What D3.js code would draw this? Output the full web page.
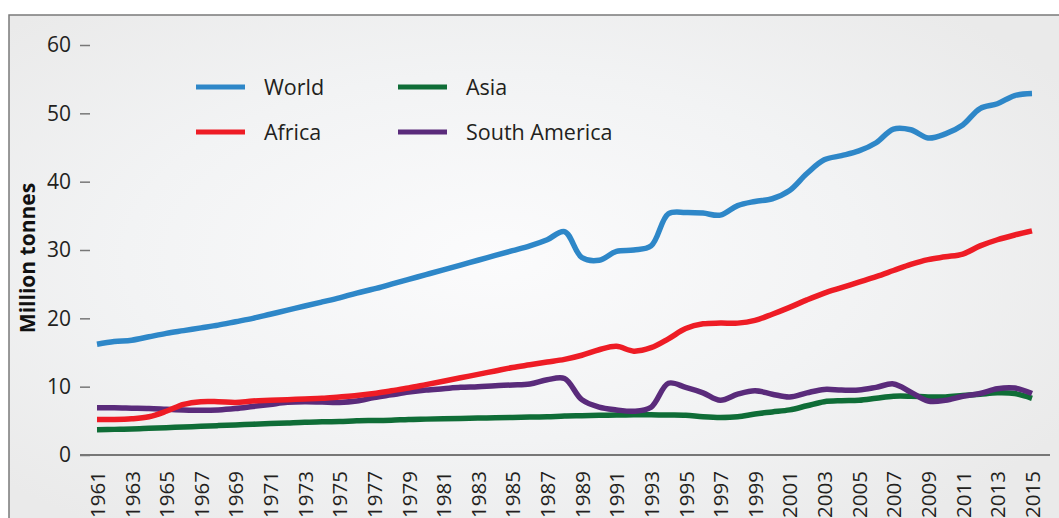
<!DOCTYPE html>
<html>
<head>
<meta charset="utf-8">
<script src="https://cdn.jsdelivr.net/npm/d3@7"></script>
<style>
  body { margin: 0; background: #fff; }
  svg { display: block; font-family: "Open Sans", "Noto Sans", sans-serif; }
</style>
</head>
<body>
<div class="vis-linechart"></div>
<script>
// years and series (million tonnes)
const years = d3.range(1961, 2016);
const tickYears = d3.range(1961, 2016, 2);
const yTicks = [0, 10, 20, 30, 40, 50, 60];

const world = [16.2, 16.6, 16.8, 17.3, 17.8, 18.2, 18.6, 19.0, 19.5, 20.0,
  20.6, 21.2, 21.8, 22.4, 23.0, 23.7, 24.3, 25.0, 25.7, 26.4,
  27.1, 27.8, 28.5, 29.2, 29.9, 30.6, 31.5, 32.7, 28.9, 28.5,
  29.8, 30.0, 30.6, 35.3, 35.5, 35.4, 35.1, 36.5, 37.1, 37.5,
  38.7, 41.2, 43.2, 43.8, 44.5, 45.7, 47.7, 47.6, 46.4, 47.0,
  48.3, 50.7, 51.4, 52.6, 52.9];
const africa = [5.2, 5.2, 5.3, 5.6, 6.4, 7.4, 7.8, 7.8, 7.7, 7.9,
  8.0, 8.1, 8.2, 8.3, 8.5, 8.7, 9.0, 9.4, 9.8, 10.3,
  10.8, 11.3, 11.8, 12.3, 12.8, 13.2, 13.6, 14.0, 14.6, 15.4,
  15.9, 15.2, 15.7, 17.0, 18.5, 19.2, 19.3, 19.3, 19.7, 20.6,
  21.6, 22.7, 23.7, 24.5, 25.3, 26.1, 27.0, 27.9, 28.6, 29.0,
  29.4, 30.6, 31.5, 32.2, 32.8];
const asia = [3.7, 3.75, 3.8, 3.9, 4.0, 4.1, 4.2, 4.3, 4.4, 4.5,
  4.6, 4.7, 4.8, 4.85, 4.9, 5.0, 5.05, 5.1, 5.2, 5.25,
  5.3, 5.35, 5.4, 5.45, 5.5, 5.55, 5.6, 5.7, 5.75, 5.8,
  5.85, 5.9, 5.9, 5.85, 5.8, 5.6, 5.5, 5.6, 6.0, 6.3,
  6.6, 7.2, 7.8, 7.95, 8.0, 8.3, 8.6, 8.6, 8.5, 8.5,
  8.7, 8.9, 9.1, 9.0, 8.3];
const southAmerica = [6.9, 6.9, 6.85, 6.8, 6.7, 6.6, 6.55, 6.6, 6.8, 7.1,
  7.4, 7.7, 7.8, 7.75, 7.7, 7.9, 8.4, 8.8, 9.2, 9.5,
  9.7, 9.9, 10.0, 10.15, 10.25, 10.4, 11.0, 11.2, 8.1, 7.0,
  6.6, 6.4, 7.0, 10.5, 9.9, 9.1, 8.0, 8.9, 9.4, 8.9,
  8.5, 9.1, 9.6, 9.5, 9.5, 9.9, 10.4, 9.2, 7.9, 8.0,
  8.6, 9.0, 9.7, 9.8, 9.0];

const seriesNames = ["World", "Africa", "Asia", "South America"];
const seriesValues = [world, africa, asia, southAmerica];
const colors = ["#2e87c8", "#ee1c25", "#0f6d37", "#5a2b7b"];

const W = 1059, H = 518;
const svg = d3.select(".vis-linechart").append("svg")
  .attr("width", W).attr("height", H);

// background panel with soft light gradient
const defs = svg.append("defs");
const grad = defs.append("radialGradient").attr("id", "bg")
  .attr("cx", "0.45").attr("cy", "0.45").attr("r", "0.62");
grad.append("stop").attr("offset", "0%").attr("stop-color", "#fbfbfc");
grad.append("stop").attr("offset", "55%").attr("stop-color", "#f2f3f4");
grad.append("stop").attr("offset", "100%").attr("stop-color", "#eaeaea");

svg.append("rect")
  .attr("x", 9).attr("y", 15).attr("width", W + 20).attr("height", H + 20)
  .attr("fill", "url(#bg)")
  .attr("stroke", "#7a7a7a").attr("stroke-width", 1.5);

const x = d3.scaleLinear().domain([1961, 2015]).range([97, 1032]);
const y = d3.scaleLinear().domain([0, 60]).range([455, 45]);

// x axis
const xAxis = svg.append("g")
  .attr("transform", "translate(0,455)")
  .call(d3.axisBottom(x).tickValues(tickYears).tickFormat(d3.format("d")).tickSize(0));
xAxis.select(".domain").remove();
xAxis.selectAll("text")
  .attr("transform", "rotate(-90)")
  .attr("text-anchor", "end")
  .attr("x", -16).attr("y", 0).attr("dy", "0.36em")
  .attr("fill", "#231f20")
  .style("font-family", "'Open Sans', sans-serif")
  .style("font-size", "20.5px");

svg.append("line")
  .attr("x1", 80).attr("x2", 1050)
  .attr("y1", y(0)).attr("y2", y(0))
  .attr("stroke", "#777").attr("stroke-width", 2);

// y axis
const yAxis = svg.append("g")
  .attr("transform", "translate(90,0)")
  .call(d3.axisLeft(y).tickValues(yTicks).tickSize(10).tickPadding(9));
yAxis.select(".domain").remove();
yAxis.selectAll("line").attr("stroke", "#777").attr("stroke-width", 1.5);
yAxis.selectAll("text")
  .attr("fill", "#231f20")
  .style("font-family", "'Open Sans', sans-serif")
  .style("font-size", "21px");

svg.append("text")
  .attr("transform", "translate(28,258) rotate(-90)")
  .attr("text-anchor", "middle")
  .attr("dy", "0.35em")
  .attr("fill", "#111")
  .style("font-size", "21px")
  .style("font-weight", "bold")
  .text("Million tonnes");

// lines
const line = d3.line()
  .x((d) => x(d.year))
  .y((d) => y(d.value))
  .curve(d3.curveCatmullRom.alpha(0.5));

const drawOrder = [2, 3, 1, 0];
drawOrder.forEach((i) => {
  const data = years.map((yr, j) => ({ year: yr, value: seriesValues[i][j] }));
  svg.append("path")
    .datum(data)
    .attr("fill", "none")
    .attr("stroke", colors[i])
    .attr("stroke-width", 5.5)
    .attr("stroke-linejoin", "round")
    .attr("d", line);
});

// legend
const legendPos = [[196, 87], [196, 132], [398, 87], [398, 132]];
const legend = svg.append("g");
seriesNames.forEach((name, i) => {
  const [lx, ly] = legendPos[i];
  legend.append("line")
    .attr("x1", lx).attr("x2", lx + 49)
    .attr("y1", ly).attr("y2", ly)
    .attr("stroke", colors[i]).attr("stroke-width", 5);
  legend.append("text")
    .attr("x", lx + 68).attr("y", ly)
    .attr("dy", "0.36em")
    .attr("fill", "#231f20")
    .style("font-size", "21.5px")
    .text(name);
});
</script>
</body>
</html>
